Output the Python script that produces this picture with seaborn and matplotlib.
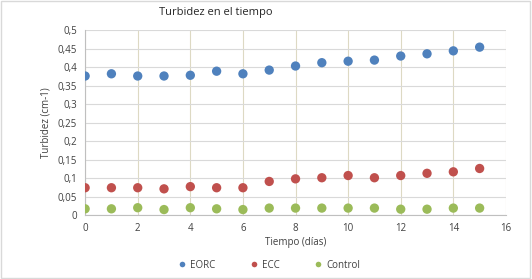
import pandas as pd
import numpy as np
from matplotlib import pyplot as plt
import seaborn as sns

# data
dias = list(range(16))
eorc = [0.376, 0.382, 0.376, 0.376, 0.378, 0.389, 0.382, 0.392,
        0.403, 0.412, 0.416, 0.419, 0.430, 0.436, 0.444, 0.454]
ecc = [0.074, 0.074, 0.074, 0.071, 0.077, 0.074, 0.074, 0.091,
       0.098, 0.101, 0.107, 0.101, 0.107, 0.113, 0.117, 0.126]
control = [0.017, 0.017, 0.020, 0.015, 0.020, 0.017, 0.015, 0.019,
           0.019, 0.019, 0.019, 0.019, 0.016, 0.016, 0.019, 0.019]
series = ["EORC", "ECC", "Control"]
colores = ["#4f81bd", "#c0504d", "#9bbb59"]

df = pd.DataFrame({
    "Tiempo": dias * 3,
    "Turbidez": eorc + ecc + control,
    "serie": ["EORC"] * 16 + ["ECC"] * 16 + ["Control"] * 16,
})

sns.set_style("white")
plt.rcParams['font.family'] = ['Open Sans', 'DejaVu Sans']

fig = plt.figure(figsize=(5.32, 2.79), dpi=100)
ax = fig.add_axes([0.16, 0.229, 0.791, 0.663])

sns.scatterplot(data=df, x="Tiempo", y="Turbidez", hue="serie",
                hue_order=series, palette=colores, s=45, linewidth=0,
                ax=ax, zorder=3)

ax.set_xlim(0, 16)
ax.set_ylim(0, 0.5)
ax.set_xticks(range(0, 17, 2))
ax.set_yticks(np.arange(0, 0.51, 0.05))
ax.set_yticklabels(["0"] + [f"{v:g}".replace(".", ",") for v in np.arange(0.05, 0.51, 0.05).round(2)])
ax.tick_params(labelsize=7, length=0, pad=6, colors="#404040")
ax.xaxis.grid(True, color="#ddd9c3", linewidth=0.8)
ax.yaxis.grid(True, color="#d9d9d9", linewidth=0.8)
ax.set_axisbelow(True)
for side in ["top", "right"]:
    ax.spines[side].set_visible(False)
for side in ["left", "bottom"]:
    ax.spines[side].set_color("#bfbfbf")
    ax.spines[side].set_linewidth(0.8)

ax.set_xlabel("Tiempo (días)", fontsize=7, color="#404040", labelpad=2)
ax.set_ylabel("Turbidez (cm-1)", fontsize=7, color="#404040", labelpad=4)
fig.text(0.405, 0.955, "Turbidez en el tiempo", fontsize=8, ha="center", va="center", color="#262626")

handles, labels = ax.get_legend_handles_labels()
ax.legend(handles, labels, loc="center", bbox_to_anchor=(0.5, 0.05), bbox_transform=fig.transFigure,
          ncol=3, frameon=False, fontsize=7, markerscale=0.6, handletextpad=-0.2, columnspacing=3.0,
          labelcolor="#404040")

# outer border like the spreadsheet chart
fig.patches.append(plt.Rectangle((0.002, 0.004), 0.995, 0.992, transform=fig.transFigure,
                                 fill=False, edgecolor="#d9d9d9", linewidth=1))

fig.savefig("out.png", dpi=100)
